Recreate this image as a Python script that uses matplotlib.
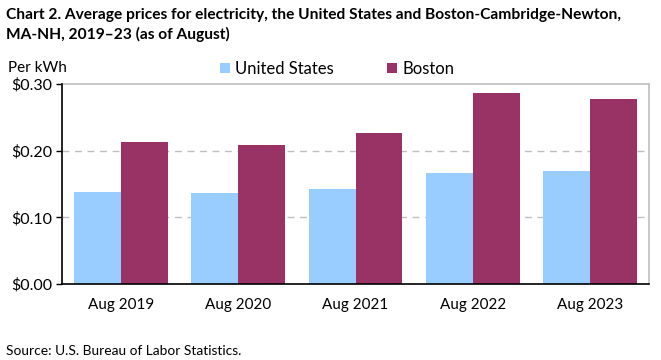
import matplotlib
matplotlib.use("Agg")
import matplotlib.pyplot as plt
import numpy as np

plt.rcParams['font.family'] = ['Lato', 'DejaVu Sans']

categories = ["Aug 2019", "Aug 2020", "Aug 2021", "Aug 2022", "Aug 2023"]
us_values = [0.138, 0.1365, 0.1425, 0.1665, 0.1695]
boston_values = [0.213, 0.2085, 0.2265, 0.2865, 0.2775]
yticks = [0.0, 0.10, 0.20, 0.30]
ytick_labels = ["$0.00", "$0.10", "$0.20", "$0.30"]

W, H = 661, 360
fig = plt.figure(figsize=(W/100, H/100), dpi=100)
ax = fig.add_axes([62/W, 1-284/H, (649-62)/W, (284-84)/H])

x = np.arange(len(categories))
bw = 0.4
ax.bar(x - bw/2, us_values, bw, color="#99CCFF", label="United States", zorder=3)
ax.bar(x + bw/2, boston_values, bw, color="#993366", label="Boston", zorder=3)

ax.set_xlim(-0.5, len(categories) - 0.5)
ax.set_ylim(0, 0.30)
ax.set_yticks(yticks)
ax.set_yticklabels(ytick_labels, fontsize=11.5)
ax.set_xticks(x)
ax.set_xticklabels(categories, fontsize=11)
ax.tick_params(axis='x', length=0, pad=10)
ax.tick_params(axis='y', length=4, width=1, color='black', pad=3)

for yv in [0.10, 0.20]:
    ax.axhline(yv, color="#BFBFBF", lw=1, ls=(0, (5, 4)), zorder=1)

ax.spines['left'].set_color('black')
ax.spines['bottom'].set_color('black')
ax.spines['left'].set_linewidth(1.2)
ax.spines['bottom'].set_linewidth(1.2)
ax.spines['top'].set_color('#BFBFBF')
ax.spines['right'].set_color('#BFBFBF')
ax.spines['top'].set_linewidth(1.2)
ax.spines['right'].set_linewidth(1.2)
ax.spines['left'].set_zorder(4)
ax.spines['bottom'].set_zorder(4)

fig.text(6/W, 1-15/H, "Chart 2. Average prices for electricity, the United States and Boston-Cambridge-Newton,",
         fontsize=11.15, fontweight='bold', va='center', ha='left')
fig.text(6/W, 1-34/H, "MA-NH, 2019\u201323 (as of August)",
         fontsize=11.15, fontweight='bold', va='center', ha='left')
fig.text(8/W, 1-68/H, "Per kWh", fontsize=11, va='center', ha='left')
fig.text(6/W, 1-351/H, "Source: U.S. Bureau of Labor Statistics.", fontsize=9.9, va='center', ha='left')

leg = fig.legend(loc='center', bbox_to_anchor=(337/W, 1-69/H), ncol=2, frameon=False,
                 fontsize=12, handlelength=0.6, handleheight=0.6, handletextpad=0.3,
                 columnspacing=3.2)

fig.savefig("out.png", dpi=100)
